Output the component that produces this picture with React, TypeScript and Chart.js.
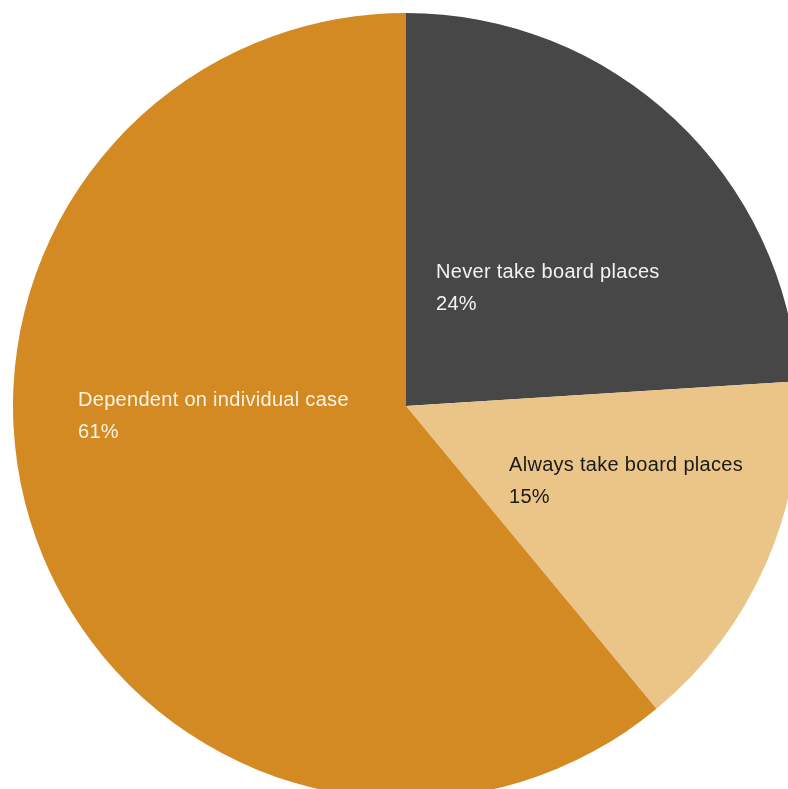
import React, { useEffect, useRef } from "react";
import { Chart, registerables } from "chart.js";

Chart.register(...registerables);

const categories = ["Never take board places", "Always take board places", "Dependent on individual case"];
const values = [24, 15, 61];
const colors = ["#474747", "#EBC488", "#D48A23"];
const textColors = ["#F2F2F2", "#1A1A1A", "#FBF3E6"];
// label anchor offsets relative to pie centre, as fraction of radius (x, baseline y)
const labelOffsets = [
  [0.0763, -0.3257],
  [0.2621, 0.1654],
  [-0.8346, 0.0],
];

const FONT = '20px "Liberation Sans", Arial, sans-serif';

const labelPlugin = {
  id: "sliceLabels",
  afterDatasetsDraw(chart: any) {
    const ctx = chart.ctx;
    const meta = chart.getDatasetMeta(0);
    ctx.save();
    ctx.font = FONT;
    try { (ctx as any).letterSpacing = "0.3px"; } catch (e) {}
    ctx.textAlign = "left";
    ctx.textBaseline = "alphabetic";
    meta.data.forEach((arc: any, i: number) => {
      const r = arc.outerRadius;
      const x = arc.x + labelOffsets[i][0] * r;
      const y = arc.y + labelOffsets[i][1] * r;
      ctx.fillStyle = textColors[i];
      ctx.fillText(categories[i], x, y);
      ctx.fillText(values[i] + "%", x, y + 32);
    });
    ctx.restore();
  },
};

export default function App() {
  const ref = useRef<HTMLCanvasElement>(null);
  useEffect(() => {
    document.body.style.margin = "0";
    document.body.style.overflow = "hidden";
    const chart = new Chart(ref.current!, {
      type: "pie",
      data: {
        labels: categories,
        datasets: [
          {
            data: values,
            backgroundColor: colors,
            borderWidth: 0,
            hoverOffset: 0,
          },
        ],
      },
      options: {
        animation: false,
        responsive: false,
        maintainAspectRatio: false,
        layout: { padding: 0 },
        plugins: {
          legend: { display: false },
          tooltip: { enabled: false },
        },
      },
      plugins: [labelPlugin],
    });
    return () => chart.destroy();
  }, []);
  return (
    <div style={{ position: "fixed", left: 0, top: 0, width: 788, height: 789, overflow: "hidden", background: "#fff" }}>
      <canvas ref={ref} width={786} height={786} style={{ position: "absolute", left: 13, top: 13, width: 786, height: 786 }} />
    </div>
  );
}
